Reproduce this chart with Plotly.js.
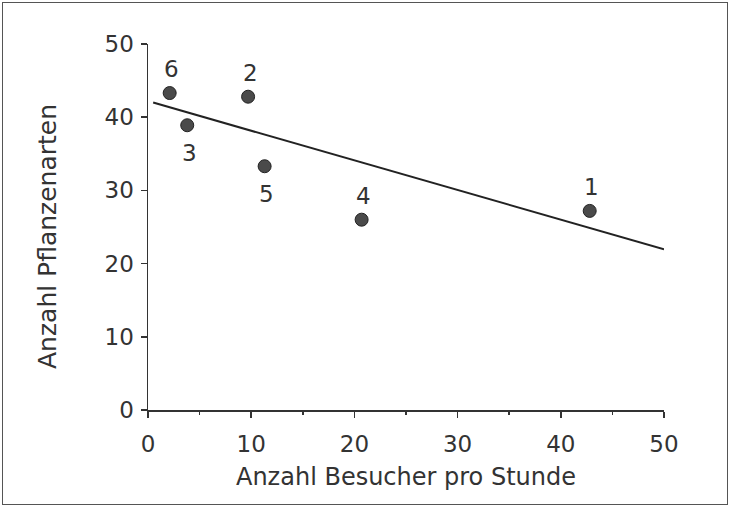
<!DOCTYPE html>
<html>
<head>
<meta charset="utf-8">
<script src="https://cdn.plot.ly/plotly-3.0.1.min.js"></script>
<style>
  html, body { margin: 0; padding: 0; background: #fff; }
  #wrap { position: relative; width: 731px; height: 508px; }
  #plot { position: absolute; left: 0; top: 0; width: 731px; height: 508px; }
  #frame { position: absolute; left: 2px; top: 2px; width: 724px; height: 501px;
           border: 1.5px solid #555; pointer-events: none; }
</style>
</head>
<body>
<div id="wrap"><div id="plot"></div><div id="frame"></div></div>
<script>
// Data
const siteLabels = ["1", "2", "3", "4", "5", "6"];
const visitorsPerHour = [42.8, 9.7, 3.8, 20.7, 11.3, 2.1];
const plantSpecies = [27.2, 42.8, 38.9, 26.0, 33.3, 43.3];
const labelAbove = [true, true, false, true, false, true];
// Regression line endpoints
const lineX = [0.5, 50];
const lineY = [42.0, 21.95];

const xTitle = "Anzahl Besucher pro Stunde";
const yTitle = "Anzahl Pflanzenarten";

const fontFamily = "DejaVu Sans, Liberation Sans, Arial, sans-serif";
const ink = "#333333";

const traces = [
  {
    type: "scatter", mode: "lines",
    x: lineX, y: lineY,
    line: { color: "#222222", width: 2 },
    hoverinfo: "skip"
  },
  {
    type: "scatter", mode: "markers",
    x: visitorsPerHour, y: plantSpecies,
    marker: { size: 13, color: "#4a4a4a", line: { color: "#222222", width: 1 } },
    cliponaxis: false
  }
];

const annotations = siteLabels.map((t, i) => ({
  x: visitorsPerHour[i], y: plantSpecies[i], xref: "x", yref: "y",
  text: t, showarrow: false,
  xanchor: "center", yanchor: "middle",
  xshift: 2, yshift: labelAbove[i] ? 24 : -28,
  font: { family: fontFamily, size: 23, color: ink }
}));

// y-axis title, placed as a rotated annotation
annotations.push({
  xref: "paper", yref: "paper", x: -0.196, y: 0.475,
  xanchor: "center", yanchor: "middle",
  text: yTitle, textangle: -90, showarrow: false,
  font: { family: fontFamily, size: 25, color: ink }
});

const axisCommon = {
  range: [0, 50],
  dtick: 10,
  tick0: 0,
  ticks: "outside",
  ticklen: 6,
  tickwidth: 1.5,
  tickcolor: ink,
  showline: true,
  linecolor: ink,
  linewidth: 1.5,
  showgrid: false,
  zeroline: false,
  tickfont: { family: fontFamily, size: 23, color: ink },
  fixedrange: true
};

const layout = {
  width: 731, height: 508,
  margin: { l: 148, r: 67, t: 44, b: 98 },
  paper_bgcolor: "#ffffff",
  plot_bgcolor: "#ffffff",
  showlegend: false,
  annotations: annotations,
  xaxis: Object.assign({}, axisCommon, {
    ticklabelstandoff: 7,
    minor: { dtick: 5, ticks: "outside", ticklen: 3, tickwidth: 1.5, tickcolor: ink, showgrid: false },
    title: { text: xTitle, font: { family: fontFamily, size: 24, color: ink }, standoff: 12 }
  }),
  yaxis: Object.assign({}, axisCommon, {
    ticklabelstandoff: 2
  })
};

Plotly.newPlot("plot", traces, layout, { staticPlot: true, displayModeBar: false });
</script>
</body>
</html>
